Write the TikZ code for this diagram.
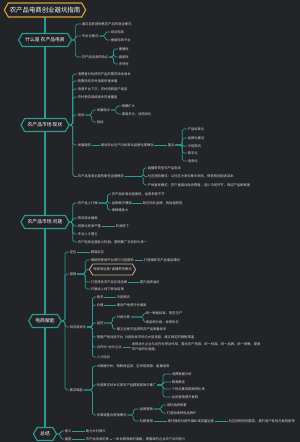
\documentclass[tikz,border=0pt]{standalone}
\usepackage{fontspec}
\newfontfamily\cjk{Noto Sans CJK SC}
\usetikzlibrary{shapes.symbols,backgrounds}

\definecolor{bgdark}{HTML}{232428}
\definecolor{tealline}{HTML}{2A9D92}
\definecolor{goldline}{HTML}{D9A031}
\definecolor{tanline}{HTML}{C9AE8E}
\definecolor{leafgray}{HTML}{D6D6D6}

\tikzset{
  topic/.style={shape=signal, signal to=west and east, signal pointer angle=120,
    draw=tealline, line width=1.1pt, fill=bgdark, text=white,
    font=\cjk\fontsize{4.8}{5.5}\selectfont, inner xsep=3pt, inner ysep=0pt,
    minimum height=13pt},
  maintitle/.style={topic, draw=goldline, font=\cjk\fontsize{6.4}{7}\selectfont,
    inner xsep=1.5pt, minimum height=14pt},
  callout/.style={topic, draw=tanline, line width=0.8pt, text=leafgray,
    font=\cjk\fontsize{3.3}{4}\selectfont, inner xsep=0.8pt, minimum height=11pt},
  leaf/.style={anchor=west, text=leafgray, font=\cjk\fontsize{3.3}{4.2}\selectfont, inner sep=0.6pt},
  link/.style={draw=tealline, line width=0.7pt, rounded corners=1.8pt},
  trunk/.style={draw=tealline, line width=1.4pt},
  br/.style={to path={-- ++(#1,0) |- (\tikztotarget)}}
}

\begin{document}
\begin{tikzpicture}[x=1pt, y=-1pt]
    \path[use as bounding box] (0,0) rectangle (300,442);
    \begin{scope}[on background layer]
        \fill[bgdark] (0,0) rectangle (300,442);
    \end{scope}

    % Main topics
    \node[maintitle] (ttl) at (45,10) {农产品电商创业避坑指南};
    \node[topic] (n1) at (45,40) {什么是 农产品电商};
    \node[topic] (n2) at (45,125) {农产品市场 现状};
    \node[topic] (n3) at (45,222) {农产品市场 问题};
    \node[topic] (n4) at (45,321) {电商赋能};
    \node[topic] (n5) at (45,434) {总结};

    % Trunk
    \begin{scope}[on background layer]
        \draw[trunk] (ttl.center) -- (n1.center) -- (n2.center) -- (n3.center) -- (n4.center) -- (n5.center);
    \end{scope}

    % Branch 1
    \node[leaf] (a1) at (81,24) {通过互联网销售农产品的商业模式};
    \node[leaf] (a2) at (81,36) {平台与模式};
    \node[leaf] (a21) at (110,32) {综合电商};
    \node[leaf] (a22) at (110,40) {垂直电商平台};
    \node[leaf] (a3) at (81,57) {农产品电商的特点};
    \node[leaf] (a31) at (118,49) {便捷性};
    \node[leaf] (a32) at (118,57) {直接性};
    \node[leaf] (a33) at (118,64) {多样性};
    \foreach \k in {a1,a2,a3} \draw[link] (n1.east) to[br=3.5] (\k.west);
    \foreach \k in {a21,a22} \draw[link] (a2.east) to[br=6] (\k.west);
    \foreach \k in {a31,a32,a33} \draw[link] (a3.east) to[br=4.5] (\k.west);

    % Branch 2
    \node[leaf] (b1) at (77,74) {消费者对优质农产品的需求持续增长};
    \node[leaf] (b2) at (77,81) {政策扶持农村电商快速发展};
    \node[leaf] (b3) at (77,89) {电商平台下沉，农村网购用户增加};
    \node[leaf] (b4) at (77,97) {农村物流网络逐步完善覆盖};
    \node[leaf] (b5) at (77,115) {现状};
    \node[leaf] (b51) at (96,110) {发展特点};
    \node[leaf] (b511) at (121,106) {规模扩大};
    \node[leaf] (b512) at (121,114) {渠道多元，结构优化};
    \node[leaf] (b52) at (96,122) {挑战};
    \node[leaf] (b6) at (77,145) {发展趋势};
    \node[leaf] (b61) at (100,145) {推动农业生产向标准化品牌化规模化};
    \node[leaf] (b62) at (167,145) {重点};
    \node[leaf] (b621) at (187,129) {产品标准化};
    \node[leaf] (b622) at (187,138) {品牌化建设};
    \node[leaf] (b623) at (187,146) {冷链物流};
    \node[leaf] (b624) at (187,153) {数字化};
    \node[leaf] (b625) at (187,161) {电商化};
    \node[leaf] (b7) at (77,176.5) {农产品电商主要有哪些运营模式};
    \node[leaf] (b71) at (147,168) {直播带货型农产品电商};
    \node[leaf] (b72) at (147,176.5) {社区团购模式：以社区为单位集中采购，降低物流配送成本};
    \node[leaf] (b73) at (147,185) {产地直发模式：农户直接对接消费者，减少中间环节，保证产品新鲜度};
    \foreach \k in {b1,b2,b3,b4,b5,b6,b7} \draw[link] (n2.east) to[br=3] (\k.west);
    \foreach \k in {b51,b52} \draw[link] (b5.east) to[br=6.5] (\k.west);
    \foreach \k in {b511,b512} \draw[link] (b51.east) to[br=5.5] (\k.west);
    \draw[link] (b6) -- (b61);
    \draw[link] (b61) -- (b62);
    \foreach \k in {b621,b622,b623,b624,b625} \draw[link] (b62.east) to[br=7] (\k.west);
    \foreach \k in {b71,b72,b73} \draw[link] (b7.east) to[br=18.5] (\k.west);

    % Branch 3
    \node[leaf] (c1) at (77,203) {农产品上行难};
    \node[leaf] (c11) at (111,194) {农产品标准化程度低，品质参差不齐};
    \node[leaf] (c12) at (111,203) {品牌意识薄弱};
    \node[leaf] (c121) at (142,203) {缺乏知名品牌，附加值较低};
    \node[leaf] (c13) at (111,210) {保鲜难度大};
    \node[leaf] (c2) at (77,218) {物流成本偏高};
    \node[leaf] (c3) at (77,226) {同质化竞争严重};
    \node[leaf] (c31) at (115,226) {利润低下};
    \node[leaf] (c4) at (77,234) {专业人才匮乏};
    \node[leaf] (c5) at (77,242) {农户电商运营能力较弱，营销推广手段较为单一};
    \foreach \k in {c1,c2,c3,c4,c5} \draw[link] (n3.east) to[br=3] (\k.west);
    \foreach \k in {c11,c12,c13} \draw[link] (c1.east) to[br=9] (\k.west);
    \draw[link] (c12) -- (c121);
    \draw[link] (c3) -- (c31);

    % Branch 4
    \node[leaf] (d1) at (69,252) {定位};
    \node[leaf] (d11) at (90,252) {精准定位};
    \node[leaf] (d2) at (69,274) {营销};
    \node[leaf] (d21) at (90,260) {借助短视频平台进行内容营销};
    \node[leaf] (d211) at (143,260) {打造爆款农产品增加曝光};
    \node[callout, anchor=west] (d22) at (89,269.5) {短视频运营+直播带货模式};
    \node[leaf] (d23) at (90,282) {打造特色农产品区域品牌};
    \node[leaf] (d231) at (139,282) {提升品牌溢价};
    \node[leaf] (d24) at (90,289) {开展线上线下联动促销};
    \node[leaf] (d3) at (69,327) {供应链优化};
    \node[leaf] (d31) at (96,297) {物流};
    \node[leaf] (d311) at (116,297) {冷链物流};
    \node[leaf] (d32) at (96,305) {仓储};
    \node[leaf] (d321) at (116,305) {建设产地预冷仓储库};
    \node[leaf] (d33) at (96,323) {品控};
    \node[leaf] (d331) at (116,317) {分级分拣};
    \node[leaf] (d3311) at (145,313) {统一种植标准，规范生产};
    \node[leaf] (d3312) at (145,322) {按品质分级，优质优价};
    \node[leaf] (d332) at (116,329) {建立全程可追溯的农产品质量体系};
    \node[leaf] (d34) at (96,337) {搭建产销对接平台};
    \node[leaf] (d341) at (124,337) {对接批发市场与大型商超，建立稳定的销售渠道};
    \node[leaf] (d35) at (96,347) {合作社+龙头企业};
    \node[leaf, align=left, font=\cjk\fontsize{3.3}{5.4}\selectfont] (d351) at (131,347)
        {发挥龙头企业与合作社带动作用，整合农户资源，统一标准、统一品牌、统一销售，提高\\农户组织化程度。};
    \node[leaf] (d36) at (96,357) {人才培训};
    \node[leaf] (d4) at (69,390) {数字赋能};
    \node[leaf] (d41) at (96,366) {大数据分析、物联网监测、区块链溯源、直播电商};
    \node[leaf] (d42) at (96,385) {利用数字技术实现农产品精准营销与推广};
    \node[leaf] (d421) at (171,374) {消费数据分析};
    \node[leaf] (d422) at (171,382) {精准推送};
    \node[leaf] (d423) at (171,389) {个性化推荐提高转化率};
    \node[leaf] (d424) at (171,397) {会员营销提升复购};
    \node[leaf] (d43) at (96,415) {多渠道整合营销模式};
    \node[leaf] (d431) at (139,409) {品牌营销};
    \node[leaf] (d4311) at (166,405) {讲好品牌故事};
    \node[leaf] (d4312) at (166,413) {打造地域特色品牌IP};
    \node[leaf] (d432) at (139,421) {社群营销};
    \node[leaf] (d4321) at (167,421) {依托微信社群开展私域流量运营};
    \node[leaf] (d4322) at (228,421) {社区团购拼团裂变，提升用户粘性与复购频率};
    \foreach \k in {d1,d2,d3,d4} \draw[link] (n4.east) to[br=3] (\k.west);
    \draw[link] (d1) -- (d11);
    \foreach \k in {d21,d22,d23,d24} \draw[link] (d2.east) to[br=8] (\k.west);
    \draw[link] (d21) -- (d211);
    \draw[link] (d23) -- (d231);
    \foreach \k in {d31,d32,d33,d34,d35,d36} \draw[link] (d3.east) to[br=5.3] (\k.west);
    \draw[link] (d31) -- (d311);
    \draw[link] (d32) -- (d321);
    \foreach \k in {d331,d332} \draw[link] (d33.east) to[br=8.2] (\k.west);
    \foreach \k in {d3311,d3312} \draw[link] (d331.east) to[br=12.5] (\k.west);
    \draw[link] (d34) -- (d341);
    \draw[link] (d35) -- (d351);
    \foreach \k in {d41,d42,d43} \draw[link] (d4.east) to[br=8.6] (\k.west);
    \foreach \k in {d421,d422,d423,d424} \draw[link] (d42.east) to[br=6] (\k.west);
    \foreach \k in {d431,d432} \draw[link] (d43.east) to[br=6] (\k.west);
    \foreach \k in {d4311,d4312} \draw[link] (d431.east) to[br=7.6] (\k.west);
    \draw[link] (d432) -- (d4321);
    \draw[link] (d4321) -- (d4322);

    % Branch 5
    \node[leaf] (e1) at (64,431) {意义};
    \node[leaf] (e11) at (85,431) {助力乡村振兴};
    \node[leaf] (e2) at (64,439) {展望};
    \node[leaf] (e21) at (85,439) {农产品电商前景};
    \node[leaf] (e22) at (112,439) {一条长期探索的道路，需要政府企业农户共同努力};
    \foreach \k in {e1,e2} \draw[link] (n5.east) to[br=3.5] (\k.west);
    \draw[link] (e1) -- (e11);
    \draw[link] (e2) -- (e21);
    \draw[link] (e21) -- (e22);
\end{tikzpicture}
\end{document}
